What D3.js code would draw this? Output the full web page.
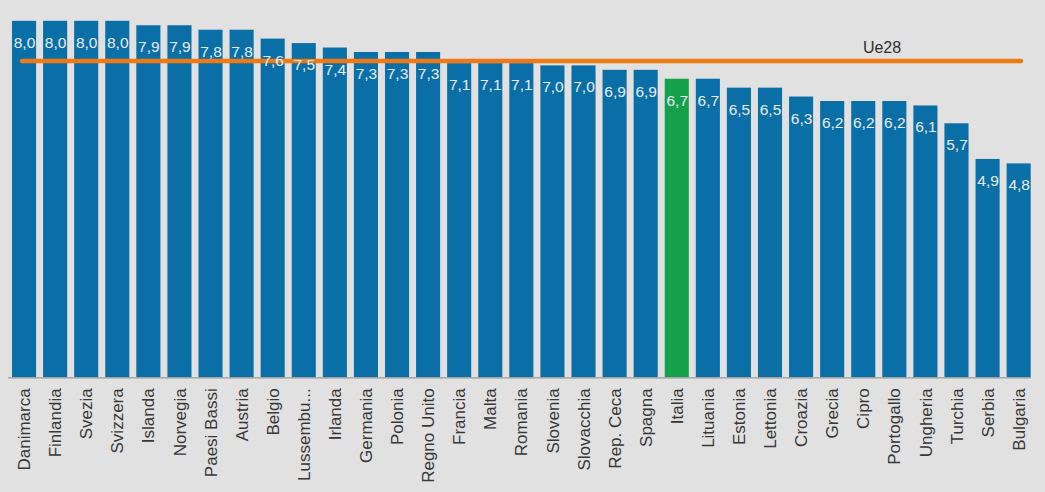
<!DOCTYPE html>
<html><head><meta charset="utf-8">
<script src="https://cdn.jsdelivr.net/npm/d3@7"></script>
<style>
html,body{margin:0;padding:0;background:#e1e1e1;}
svg{display:block;font-family:"Liberation Sans",Arial,sans-serif;}
</style></head>
<body>
<svg id="chart" width="1045" height="492"></svg>
<script>
const categories = ["Danimarca","Finlandia","Svezia","Svizzera","Islanda","Norvegia","Paesi Bassi","Austria","Belgio","Lussembu...","Irlanda","Germania","Polonia","Regno Unito","Francia","Malta","Romania","Slovenia","Slovacchia","Rep. Ceca","Spagna","Italia","Lituania","Estonia","Lettonia","Croazia","Grecia","Cipro","Portogallo","Ungheria","Turchia","Serbia","Bulgaria"];
const values = [8.0,8.0,8.0,8.0,7.9,7.9,7.8,7.8,7.6,7.5,7.4,7.3,7.3,7.3,7.05,7.05,7.05,7.0,7.0,6.9,6.9,6.7,6.7,6.5,6.5,6.3,6.2,6.2,6.2,6.1,5.7,4.9,4.8];
const valueLabels = ["8,0","8,0","8,0","8,0","7,9","7,9","7,8","7,8","7,6","7,5","7,4","7,3","7,3","7,3","7,1","7,1","7,1","7,0","7,0","6,9","6,9","6,7","6,7","6,5","6,5","6,3","6,2","6,2","6,2","6,1","5,7","4,9","4,8"];
const highlight = ["Italia"];
const ueValue = [7.1];
const ueLabel = ["Ue28"];

const svg = d3.select("#chart");
const x = d3.scaleBand().domain(categories).range([8.5, 1034.2]).paddingInner(0.225).paddingOuter(0.1125);
const y = d3.scaleLinear().domain([0, 8]).range([377.3, 20.8]);

const blue = "#0b6fa7", green = "#15a04a", orange = "#ee7a16";

svg.selectAll("rect.bar").data(categories).join("rect")
  .attr("class","bar")
  .attr("x", d => x(d))
  .attr("width", x.bandwidth())
  .attr("y", (d,i) => y(values[i]))
  .attr("height", (d,i) => y(0) - y(values[i]))
  .attr("fill", d => highlight.includes(d) ? green : blue);

// axis
const axis = svg.append("g").attr("transform", `translate(0,${y(0)})`)
  .call(d3.axisBottom(x).tickSize(0).tickPadding(0));
axis.select(".domain").attr("stroke","#9a9a9a").attr("stroke-width",1.2).attr("d","M8,0.5H1031");
axis.selectAll(".tick text")
  .attr("transform","rotate(-90)")
  .attr("text-anchor","end")
  .attr("x", -11)
  .attr("y", 0)
  .attr("dy","0.36em")
  .attr("fill","#383838")
  .style("font-size","17px")
  .style("font-family","'Liberation Sans',Arial,sans-serif");

// Ue28 line
svg.append("line")
  .attr("x1", 22).attr("x2", 1021)
  .attr("y1", y(ueValue[0])).attr("y2", y(ueValue[0]))
  .attr("stroke", orange).attr("stroke-width", 4.5).attr("stroke-linecap","round");

// value labels
svg.selectAll("text.val").data(categories).join("text")
  .attr("class","val")
  .attr("x", d => x(d) + x.bandwidth()/2 + 0.5)
  .attr("y", (d,i) => y(values[i]) + 27)
  .attr("text-anchor","middle")
  .attr("fill","#e8eef4")
  .style("font-size","15.5px")
  .text((d,i) => valueLabels[i]);

svg.append("text")
  .attr("x", 882).attr("y", 53)
  .attr("text-anchor","middle")
  .attr("fill","#303030")
  .style("font-size","16px")
  .text(ueLabel[0]);
</script>
</body></html>
